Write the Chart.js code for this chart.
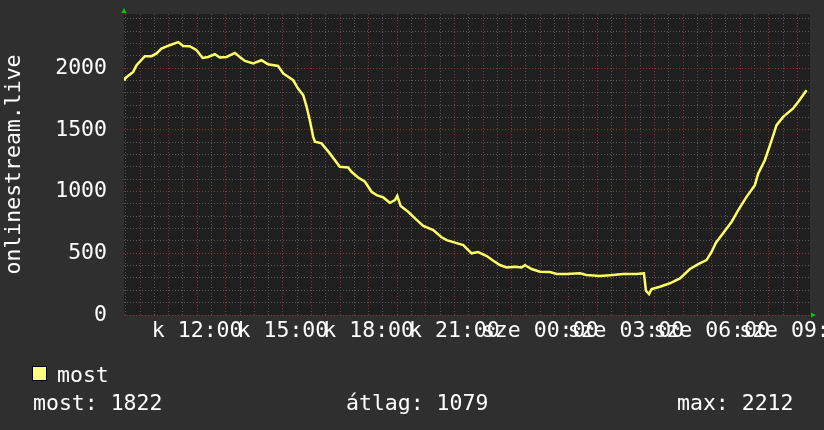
<!DOCTYPE html>
<html>
<head>
<meta charset="utf-8">
<script src="https://cdn.jsdelivr.net/npm/chart.js@4"></script>
<style>
  html, body { margin: 0; padding: 0; background: #2f2f2f; }
  canvas { display: block; }
</style>
</head>
<body>
<canvas id="chart" width="824" height="430"></canvas>
<script>
// hours since Tuesday 00:00 (24+ = Wednesday)
const hours = [
    9.44, 9.47, 9.76, 9.88, 10.17, 10.40, 10.58, 10.75, 11.04, 11.34, 11.51, 11.74, 11.98,
    12.19, 12.38, 12.62, 12.79, 13.03, 13.32, 13.49, 13.67, 13.96, 14.25, 14.48, 14.83,
    15.01, 15.36, 15.53, 15.71, 15.83, 15.94, 16.06, 16.12, 16.35, 16.64, 16.99, 17.28,
    17.40, 17.63, 17.87, 18.10, 18.28, 18.51, 18.74, 18.92, 19.00, 19.12, 19.38, 19.62,
    19.91, 20.26, 20.55, 20.73, 20.96, 21.31, 21.60, 21.83, 22.13, 22.36, 22.59, 22.83,
    23.12, 23.35, 23.47, 23.70, 23.99, 24.34, 24.58, 24.93, 25.39, 25.62, 26.09, 26.44,
    26.91, 27.37, 27.63, 27.70, 27.81, 27.90, 28.19, 28.54, 28.89, 29.24, 29.53, 29.82,
    30.00, 30.15, 30.40, 30.70, 30.93, 31.22, 31.51, 31.63, 31.86, 32.10, 32.27, 32.50,
    32.85, 33.03, 33.32
];
const viewers = [
    1910, 1917, 1971, 2025, 2098, 2098, 2120, 2160, 2187, 2212, 2181, 2179, 2146,
    2084, 2092, 2114, 2087, 2092, 2125, 2092, 2060, 2039, 2065, 2033, 2019,
    1958, 1903, 1836, 1782, 1687, 1579, 1444, 1404, 1391, 1310, 1201, 1196,
    1161, 1115, 1080, 999, 972, 953, 910, 931, 966, 883, 837, 783,
    723, 688, 630, 607, 591, 567, 500, 510, 478, 440, 405, 386,
    391, 386, 403, 373, 351, 348, 332, 332, 338, 324, 316, 322,
    332, 332, 338, 197, 170, 211, 229, 257, 297, 373, 413, 445,
    513, 586, 662, 756, 850, 958, 1053, 1148, 1255, 1417, 1539, 1606,
    1674, 1728, 1822
];
const seriesName = "most";
const axisTitle = "onlinestream.live";
const statLabels = ["most", "átlag", "max"];
const statValues = [1822, 1079, 2212];
const dayNames = ["k", "sze"];

const FONT = "'DejaVu Sans Mono', monospace";
const TEXT = "#ffffff";
const GRID_MINOR = "#575757";
const GRID_MAJOR = "#8a3434";

function pad(n) {
    return (n < 10 ? "0" : "") + n;
}

function hourLabel(h) {
    if (h % 3 !== 0) return "";
    const day = h < 24 ? dayNames[0] : dayNames[1];
    return day + " " + pad(h % 24) + ":00";
}

const rrdLook = {
    id: "rrdLook",
    beforeDraw(chart) {
        const ctx = chart.ctx;
        const a = chart.chartArea;
        ctx.save();
        ctx.fillStyle = "#2f2f2f";
        ctx.fillRect(0, 0, chart.width, chart.height);
        ctx.fillStyle = "#1f1f1f";
        ctx.fillRect(a.left, a.top, a.right - a.left, a.bottom - a.top);
        ctx.restore();
    },
    afterDraw(chart) {
        const ctx = chart.ctx;
        const a = chart.chartArea;
        ctx.save();

        // green axis arrows
        ctx.fillStyle = "#00cc00";
        ctx.beginPath();
        ctx.moveTo(a.left - 2.5, a.top - 1);
        ctx.lineTo(a.left + 2.5, a.top - 1);
        ctx.lineTo(a.left, a.top - 6);
        ctx.closePath();
        ctx.fill();
        ctx.beginPath();
        ctx.moveTo(a.right + 1, a.bottom - 2.5);
        ctx.lineTo(a.right + 1, a.bottom + 2.5);
        ctx.lineTo(a.right + 6, a.bottom);
        ctx.closePath();
        ctx.fill();

        // legend
        ctx.font = "21.5px " + FONT;
        ctx.textBaseline = "alphabetic";
        ctx.textAlign = "left";
        ctx.fillStyle = "#ffff80";
        ctx.fillRect(32, 366, 15, 15);
        ctx.strokeStyle = "#000000";
        ctx.lineWidth = 1;
        ctx.strokeRect(32.5, 366.5, 14, 14);
        ctx.fillStyle = TEXT;
        ctx.fillText(seriesName, 57, 382);

        const statX = [33, 346, 677];
        statLabels.forEach((lbl, i) => {
            ctx.fillText(lbl + ": " + statValues[i], statX[i], 410);
        });
        ctx.restore();
    },
};

const points = hours.map((h, i) => ({ x: h, y: viewers[i] }));

const cfg = {
    type: "line",
    data: {
        datasets: [
            {
                label: seriesName,
                data: points,
                borderColor: "#ffff66",
                borderWidth: 2.5,
                pointRadius: 0,
                tension: 0,
                fill: false,
            },
        ],
    },
    options: {
        responsive: false,
        animation: false,
        layout: { padding: { top: 14, right: 14, left: 0, bottom: 0 } },
        plugins: {
            legend: { display: false },
            tooltip: { enabled: false },
        },
        scales: {
            x: {
                type: "linear",
                min: 9.44,
                max: 33.44,
                afterBuildTicks(scale) {
                    const t = [];
                    for (let i = 19; i <= 66; i++) t.push({ value: i / 2 });
                    scale.ticks = t;
                },
                afterFit(scale) {
                    scale.height = 115;
                    scale.paddingLeft = 0;
                    scale.paddingRight = 0;
                },
                grid: {
                    drawTicks: false,
                    color: (c) => (Number.isInteger(c.tick.value) ? GRID_MAJOR : GRID_MINOR),
                    lineWidth: 1,
                },
                border: { display: false, dash: [1, 2] },
                ticks: {
                    autoSkip: false,
                    maxRotation: 0,
                    minRotation: 0,
                    padding: 4,
                    color: TEXT,
                    font: { family: FONT, size: 21.5 },
                    callback: (v) => hourLabel(v),
                },
            },
            y: {
                min: 0,
                max: 2440,
                afterBuildTicks(scale) {
                    const t = [];
                    for (let v = 0; v <= 2400; v += 100) t.push({ value: v });
                    scale.ticks = t;
                },
                afterFit(scale) {
                    scale.width = 124;
                    scale.paddingTop = 0;
                    scale.paddingBottom = 0;
                },
                grid: {
                    drawTicks: false,
                    color: (c) => (c.tick.value % 500 === 0 ? GRID_MAJOR : GRID_MINOR),
                    lineWidth: 1,
                },
                border: { display: false, dash: [1, 2] },
                title: {
                    display: true,
                    text: axisTitle,
                    color: TEXT,
                    font: { family: FONT, size: 21.5 },
                    padding: { top: 2, bottom: 0 },
                },
                ticks: {
                    autoSkip: false,
                    padding: 17,
                    color: TEXT,
                    font: { family: FONT, size: 21.5 },
                    callback: (v) => (v % 500 === 0 ? String(v) : ""),
                },
            },
        },
    },
    plugins: [rrdLook],
};

new Chart(document.getElementById("chart"), cfg);
</script>
</body>
</html>
